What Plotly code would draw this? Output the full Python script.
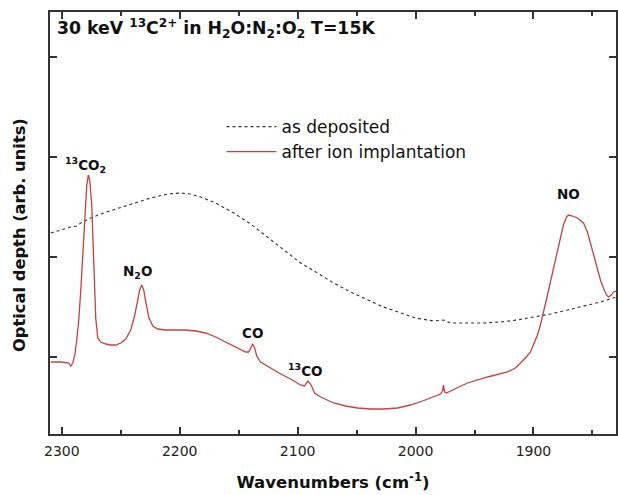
import plotly.graph_objects as go

# ---- data ----
wn_after = [2309.3, 2300.8, 2294.1, 2292.4, 2290.7, 2289.0, 2287.3, 2285.6, 2283.9, 2282.2,
            2280.5, 2278.8, 2277.5, 2276.3, 2274.6, 2272.9, 2271.2, 2269.5, 2267.0, 2262.7,
            2258.5, 2254.2, 2250.0, 2245.8, 2241.5, 2238.1, 2235.6, 2233.9, 2232.2, 2230.5,
            2228.8, 2226.3, 2222.9, 2218.6, 2211.9, 2203.4, 2194.9, 2186.4, 2178.0, 2169.5,
            2161.0, 2152.5, 2144.1, 2141.5, 2139.8, 2138.1, 2136.4, 2134.7, 2131.4, 2122.9,
            2114.4, 2105.9, 2097.5, 2094.1, 2091.5, 2089.0, 2085.6, 2080.5, 2069.5, 2059.3,
            2049.2, 2038.1, 2027.1, 2015.3, 2004.2, 1994.1, 1984.7, 1978.8, 1977.1, 1976.3,
            1975.4, 1973.7, 1970.3, 1955.9, 1938.9, 1922.0, 1915.3, 1911.0, 1906.8, 1902.5,
            1899.2, 1896.6, 1894.1, 1891.5, 1888.1, 1885.6, 1882.2, 1879.7, 1877.1, 1874.6,
            1872.0, 1870.3, 1866.9, 1862.7, 1857.6, 1854.2, 1851.7, 1848.3, 1845.8, 1843.2,
            1840.7, 1838.1, 1836.4, 1833.9, 1832.2, 1829.7]
od_after = [0.95, 0.95, 0.94, 0.91, 0.94, 1.02, 1.17, 1.37, 1.67, 2.05,
            2.42, 2.72, 2.82, 2.77, 2.52, 1.92, 1.39, 1.19, 1.15, 1.13,
            1.12, 1.12, 1.14, 1.18, 1.27, 1.42, 1.57, 1.67, 1.72, 1.67,
            1.55, 1.40, 1.31, 1.28, 1.27, 1.27, 1.27, 1.26, 1.24, 1.20,
            1.15, 1.10, 1.05, 1.05, 1.09, 1.13, 1.09, 1.01, 0.95, 0.89,
            0.83, 0.78, 0.72, 0.71, 0.76, 0.73, 0.64, 0.60, 0.54, 0.51,
            0.49, 0.48, 0.48, 0.49, 0.52, 0.56, 0.60, 0.63, 0.66, 0.72,
            0.65, 0.64, 0.66, 0.74, 0.80, 0.85, 0.89, 0.94, 0.99, 1.05,
            1.14, 1.22, 1.32, 1.44, 1.62, 1.75, 1.93, 2.07, 2.21, 2.32,
            2.40, 2.42, 2.41, 2.39, 2.34, 2.25, 2.14, 1.99, 1.87, 1.77,
            1.69, 1.62, 1.60, 1.62, 1.65, 1.66]

wn_dep = [2309.3, 2300.8, 2292.4, 2287.3, 2283.9, 2275.4, 2267.0, 2254.2, 2239.0, 2224.6,
          2210.2, 2199.2, 2190.7, 2182.2, 2169.5, 2154.2, 2139.8, 2127.1, 2114.4, 2097.5,
          2083.1, 2069.5, 2055.1, 2040.7, 2027.1, 2012.7, 2000.0, 1984.7, 1976.3, 1970.3,
          1955.9, 1942.4, 1928.0, 1913.6, 1900.0, 1885.6, 1871.2, 1857.6, 1843.2, 1829.7]
od_dep = [2.24, 2.27, 2.30, 2.31, 2.34, 2.39, 2.43, 2.48, 2.54, 2.59,
          2.63, 2.64, 2.63, 2.60, 2.54, 2.44, 2.33, 2.21, 2.09, 1.94,
          1.84, 1.74, 1.65, 1.57, 1.50, 1.44, 1.39, 1.36, 1.37, 1.34,
          1.34, 1.34, 1.35, 1.37, 1.40, 1.43, 1.47, 1.51, 1.55, 1.60]

peak_labels = ["<sup>13</sup>CO<sub>2</sub>", "N<sub>2</sub>O", "CO", "<sup>13</sup>CO", "NO"]
peak_wn = [2280, 2236, 2138, 2093, 1870]
peak_od = [2.92, 1.85, 1.24, 0.87, 2.63]

x_ticks = [2300, 2200, 2100, 2000, 1900]
y_ticks = [1, 2, 3, 4]

FONT = "DejaVu Sans, Arial, sans-serif"

fig = go.Figure()
fig.add_trace(go.Scatter(x=wn_dep, y=od_dep, mode="lines", name="as deposited",
                         line=dict(color="#333333", width=1.1, dash="dot")))
fig.add_trace(go.Scatter(x=wn_after, y=od_after, mode="lines", name="after ion implantation",
                         line=dict(color="#c84040", width=1.3)))

for lab, xv, yv in zip(peak_labels, peak_wn, peak_od):
    fig.add_annotation(x=xv, y=yv, text="<b>" + lab + "</b>", showarrow=False,
                       font=dict(family=FONT, size=13.5, color="#111111"))

fig.add_annotation(xref="paper", yref="paper", x=0.008, y=0.995, xanchor="left", yanchor="top",
                   text="<b>30 keV <sup>13</sup>C<sup>2+</sup> in H<sub>2</sub>O:N<sub>2</sub>:O<sub>2</sub> T=15K</b>",
                   showarrow=False, font=dict(family=FONT, size=17.3, color="#111111"))

fig.add_annotation(xref="paper", yref="paper", x=-0.053, y=0.4716, xanchor="center", yanchor="middle",
                   textangle=-90, text="<b>Optical depth (arb. units)</b>", showarrow=False,
                   font=dict(family=FONT, size=16.3, color="#111111"))

axis_common = dict(showline=True, linecolor="#333333", linewidth=2, mirror="allticks",
                   ticks="inside", tickcolor="#333333", tickwidth=1.5, showgrid=False,
                   zeroline=False, automargin=False)

fig.update_xaxes(range=[2310, 1830], tickvals=x_ticks, ticklen=7, ticklabelstandoff=3,
                 minor=dict(dtick=50, ticks="inside", ticklen=4, tickcolor="#333333", tickwidth=1.5, showgrid=False),
                 tickfont=dict(family=FONT, size=14, color="#222222"),
                 title=dict(text="<b>Wavenumbers (cm<sup>-1</sup>)</b>", standoff=19,
                            font=dict(family=FONT, size=16.5, color="#111111")),
                 **axis_common)
fig.update_yaxes(range=[0.23, 4.45], tickvals=y_ticks, ticklen=7, showticklabels=False,
                 **axis_common)

fig.update_layout(width=618, height=495, margin=dict(l=50, r=2, t=12, b=61),
                  paper_bgcolor="white", plot_bgcolor="white",
                  showlegend=True,
                  legend=dict(x=0.303, y=0.770, xanchor="left", yanchor="top",
                              bgcolor="rgba(0,0,0,0)", borderwidth=0, itemwidth=50,
                              font=dict(family=FONT, size=17, color="#111111")))

# remove the default 8px page margin so the figure fills the 618x495 window exactly
fig.write_html("out.html", config={"displayModeBar": False},
               post_script="document.body.style.margin='0';")
